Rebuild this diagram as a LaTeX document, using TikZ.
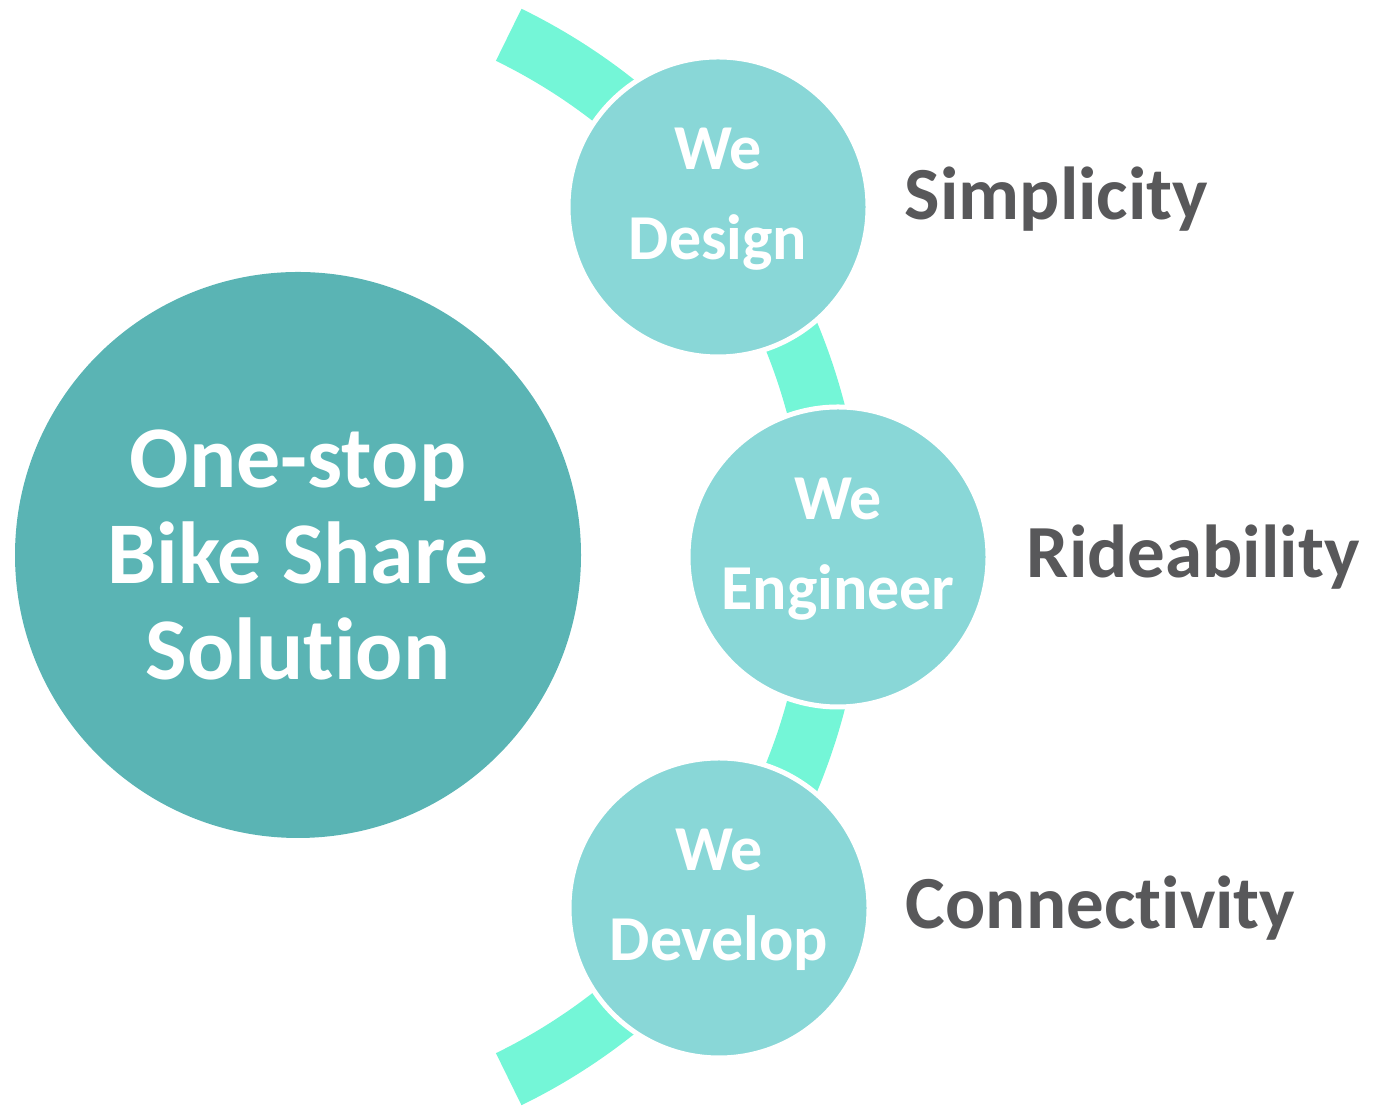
\documentclass[tikz,border=0pt]{standalone}
\usepackage{fontspec}
\setmainfont{Carlito}[Ligatures=NoCommon]
\usetikzlibrary{positioning}

\definecolor{hubteal}{HTML}{5AB4B4}
\definecolor{stageteal}{HTML}{89D7D7}
\definecolor{bandmint}{HTML}{74F6D7}
\definecolor{valuegrey}{HTML}{58585A}

\begin{document}
\begin{tikzpicture}[x=0.5pt, y=0.5pt,
  hub/.style={circle, fill=hubteal, minimum size=283pt, inner sep=0pt, text=white,
    font=\fontsize{44}{48}\selectfont\bfseries, align=center},
  stage/.style={circle, fill=stageteal, draw=white, line width=2.5pt, minimum size=150pt,
    inner sep=0pt, text depth=13pt, text=white, font=\fontsize{32}{45}\selectfont\bfseries, align=center},
  value/.style={text=valuegrey, font=\fontsize{37.5}{45}\selectfont\bfseries, inner sep=0pt},
  band/.style={draw=bandmint, line width=29pt}]
\useasboundingbox (0,0) rectangle (1380,1106);

% the mint band behind the three stages
\coordinate (bandc) at (254,549);
\draw[band] (bandc) ++(64:290.5pt) arc[start angle=64, end angle=-64, radius=290.5pt];

\node[hub] (hub) at (298,551) {One-stop\\Bike Share\\Solution};

\node[stage] (design) at (718,899) {We\\Design};
\node[stage] (engineer) at (838,549) {We\\Engineer};
\node[stage] (develop) at (719,198) {We\\Develop};

\node[value, right=17pt of design, yshift=4pt] (simplicity) {Simplicity};
\node[value, right=18pt of engineer] (rideability) {Rideability};
\node[value, right=17pt of develop] (connectivity) {Connectivity};
\end{tikzpicture}
\end{document}
